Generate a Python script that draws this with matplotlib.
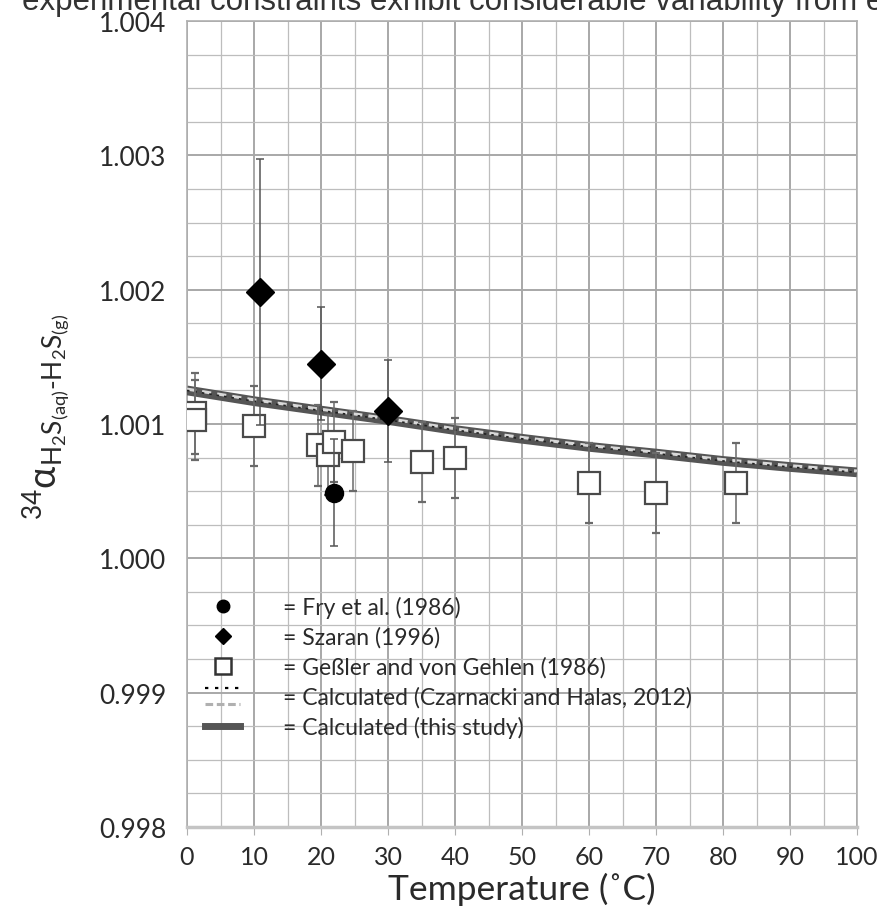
import matplotlib
matplotlib.use("Agg")
import matplotlib.pyplot as plt
from matplotlib.lines import Line2D
from matplotlib.legend_handler import HandlerBase
from matplotlib.ticker import MultipleLocator, FormatStrFormatter

# ---------------- data ----------------
fry_t = [22.0]
fry_a = [1.00049]
fry_err = [0.0004]

szaran_t = [10.9, 20.0, 30.0]
szaran_a = [1.00198, 1.00145, 1.00110]
szaran_err = [0.00099, 0.00042, 0.00038]

gessler_t = [1.2, 1.2, 10.0, 19.5, 21.0, 22.0, 24.8, 35.0, 40.0, 60.0, 70.0, 82.0]
gessler_a = [1.00108, 1.00103, 1.000985, 1.00084, 1.00077, 1.000866, 1.00080,
             1.000716, 1.000746, 1.00056, 1.000485, 1.00056]
gessler_err = [0.0003] * 12

calc_t = [0, 10, 20, 30, 40, 50, 60, 70, 80, 90, 100]
calc_this_study = [1.00125, 1.00117, 1.00110, 1.00103, 1.000955, 1.00089,
                   1.00083, 1.00078, 1.000725, 1.00068, 1.00064]
calc_czarnacki = [1.00126, 1.00118, 1.00111, 1.00104, 1.000965, 1.00090,
                  1.00084, 1.00079, 1.000735, 1.00069, 1.00065]

x_ticks = [0, 10, 20, 30, 40, 50, 60, 70, 80, 90, 100]
y_ticks = [0.998, 0.999, 1.000, 1.001, 1.002, 1.003, 1.004]

legend_labels = ["= Fry et al. (1986)", "= Szaran (1996)",
                 "= Geßler and von Gehlen (1986)",
                 "= Calculated (Czarnacki and Halas, 2012)",
                 "= Calculated (this study)"]

FONT = "Lato"
plt.rcParams["font.family"] = [FONT, "DejaVu Sans"]
plt.rcParams["mathtext.fontset"] = "custom"
plt.rcParams["mathtext.rm"] = FONT
plt.rcParams["mathtext.it"] = FONT
plt.rcParams["mathtext.sf"] = FONT

fig = plt.figure(figsize=(8.77, 9.2), dpi=100)
ax = fig.add_axes([187/877, 1 - 828/920, (857-187)/877, (828-22)/920])

ax.set_xlim(0, 100)
ax.set_ylim(0.998, 1.004)
ax.set_xticks(x_ticks)
ax.set_yticks(y_ticks)
ax.xaxis.set_minor_locator(MultipleLocator(5))
ax.yaxis.set_minor_locator(MultipleLocator(0.00025))
ax.yaxis.set_major_formatter(FormatStrFormatter("%.3f"))
ax.grid(which="major", color="#a8a8a8", lw=1.4, zorder=0)
ax.grid(which="minor", color="#bdbdbd", lw=0.9, zorder=0)
ax.set_axisbelow(True)
for s in ax.spines.values():
    s.set_color("#b0b0b0")
    s.set_linewidth(1.2)
ax.spines["bottom"].set_linewidth(2.5)
ax.spines["bottom"].set_color("#c4c4c4")
ax.tick_params(axis="x", which="major", length=6, color="#b0b0b0", labelsize=18,
               labelcolor="#2a2a2a", pad=7)
ax.tick_params(axis="x", which="minor", length=0)
ax.tick_params(axis="y", which="both", length=0, labelsize=19, labelcolor="#2a2a2a", pad=15)

# calculated curves
ax.plot(calc_t, calc_this_study, color="#555555", lw=7, solid_capstyle="butt", zorder=3)
ax.plot(calc_t, calc_czarnacki, color="#d8d8d8", lw=2.2, ls=(0, (3, 2)), zorder=4)
ax.plot(calc_t, calc_this_study, color="#222222", lw=1.2, ls=(0, (1.5, 3)), zorder=4)

# data with error bars
ax.errorbar(gessler_t, gessler_a, yerr=gessler_err, fmt="s", ms=16, mfc="white",
            mec="#4a4a4a", mew=1.6, ecolor="#6a6a6a", elinewidth=1.1, capsize=3,
            capthick=1.1, zorder=5)
ax.errorbar(szaran_t, szaran_a, yerr=szaran_err, fmt="D", ms=14, mfc="black",
            mec="black", ecolor="#555555", elinewidth=1.1, capsize=3, capthick=1.1,
            zorder=6)
ax.errorbar(fry_t, fry_a, yerr=fry_err, fmt="o", ms=13, mfc="black", mec="black",
            ecolor="#555555", elinewidth=1.1, capsize=3, capthick=1.1, zorder=6)

# legend
class TwoLineHandler(HandlerBase):
    def create_artists(self, legend, orig_handle, xdescent, ydescent, width, height,
                       fontsize, trans):
        l1 = Line2D([0, width], [height * 1.0] * 2, color="black", lw=1.6,
                    ls=(0, (1.5, 3)))
        l2 = Line2D([0, width], [height * 0.0] * 2, color="#b0b0b0", lw=2.2,
                    ls=(0, (2.5, 1.2)))
        l1.set_transform(trans)
        l2.set_transform(trans)
        return [l1, l2]

h_fry = Line2D([], [], marker="o", ls="none", ms=9, mfc="black", mec="black")
h_sz = Line2D([], [], marker="D", ls="none", ms=8, mfc="black", mec="black")
h_ge = Line2D([], [], marker="s", ls="none", ms=12, mfc="white", mec="#333333", mew=1.8)
h_cz = object()
h_ts = Line2D([], [], color="#555555", lw=5)
leg = ax.legend([h_fry, h_sz, h_ge, h_cz, h_ts], legend_labels,
                handler_map={h_cz: TwoLineHandler()},
                loc="upper left", bbox_to_anchor=(0.027, 0.287), frameon=False,
                fontsize=16.5, handlelength=1.53, handletextpad=1.88, labelspacing=0.37,
                borderpad=0, borderaxespad=0)
for t in leg.get_texts():
    t.set_color("#2a2a2a")

ax.set_xlabel("Temperature (˚C)", fontsize=25.5, color="#2a2a2a", labelpad=3)
ax.set_ylabel(r"$^{34}\alpha_{\mathrm{H_2S_{(aq)}\text{-}H_2S_{(g)}}}$",
              fontsize=27, color="#2a2a2a")
ax.yaxis.set_label_coords(-0.172, 0.51)

fig.text(0.025, 1 - 10/920, "experimental constraints exhibit considerable variability from e",
         fontsize=22.5, color="#333333", family=["Liberation Sans", "DejaVu Sans"],
         va="baseline", ha="left")

fig.savefig("out.png", dpi=100, facecolor="white")
